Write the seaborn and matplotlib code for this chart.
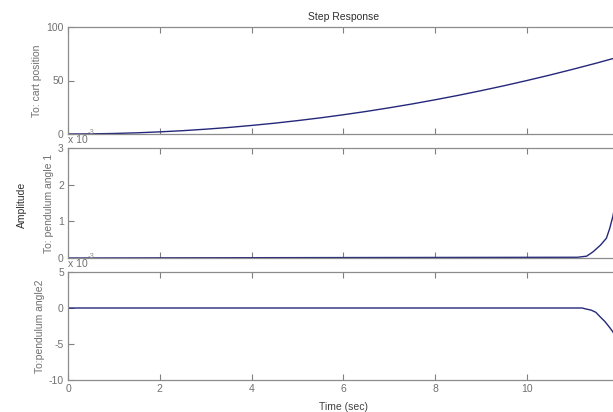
import numpy as np
import pandas as pd
import matplotlib
matplotlib.use("Agg")
import matplotlib.pyplot as plt
import seaborn as sns

# step response values
t_cart = [0, 0.5, 1, 1.5, 2, 2.5, 3, 3.5, 4, 4.5, 5, 5.5, 6, 6.5, 7, 7.5,
          8, 8.5, 9, 9.5, 10, 10.5, 11, 11.5, 12]
cart_pos = [0, 0.12, 0.5, 1.1, 2, 3.1, 4.5, 6.1, 8, 10.1, 12.5, 15.1, 18,
            21.1, 24.5, 28.1, 32, 36.1, 40.5, 45.1, 50, 55.1, 60.5, 66.1, 72]

t_pend1 = [0, 5, 11.1, 11.3, 11.44, 11.6, 11.73, 11.8, 11.87, 12]
pend1 = [0, 0.01, 0.02, 0.05, 0.17, 0.35, 0.54, 0.8, 1.13, 2.0]

t_pend2 = [0, 11.2, 11.26, 11.4, 11.5, 11.59, 11.7, 11.8, 11.87, 12]
pend2 = [0, 0, -0.1, -0.3, -0.6, -1.2, -1.9, -2.7, -3.3, -5.0]

row_labels = ["To: cart position", "To: pendulum angle 1", "To:pendulum angle2"]
y_limits = [(0, 100), (0, 3), (-10, 5)]
y_ticks = [[0, 50, 100], [0, 1, 2, 3], [-10, -5, 0, 5]]
x_ticks = [0, 2, 4, 6, 8, 10, 12]
x_tick_labels = ["0", "2", "4", "6", "8", "10", ""]

sns.set_theme(style="white")
plt.rcParams["font.family"] = ["Liberation Sans", "DejaVu Sans"]
plt.rcParams["axes.unicode_minus"] = False

grey = "#808080"
line_color = "#25287a"

fig = plt.figure(figsize=(6.13, 4.12), dpi=100)
W, H = 613, 412
left = 68 / W
width = 12 * 45.9 / W
boxes = [(27, 134), (148, 258), (272, 380)]

series = [(t_cart, cart_pos), (t_pend1, pend1), (t_pend2, pend2)]
axes = []
for i, ((top, bot), (tx, vy)) in enumerate(zip(boxes, series)):
    ax = fig.add_axes([left, (H - bot) / H, width, (bot - top) / H])
    df = pd.DataFrame({"t": tx, "v": vy})
    sns.lineplot(data=df, x="t", y="v", ax=ax, color=line_color, linewidth=1.0)
    ax.set_xlim(0, 12)
    ax.set_ylim(*y_limits[i])
    ax.set_yticks(y_ticks[i])
    ax.set_xticks(x_ticks)
    ax.tick_params(direction="in", length=4, width=0.8, colors=grey,
                   labelsize=7.5, top=True, bottom=True, left=True, right=True,
                   pad=3)
    ax.tick_params(axis="y", labelcolor="#707070")
    for s in ax.spines.values():
        s.set_color("#8c8c8c")
        s.set_linewidth(0.9)
    ax.set_ylabel(row_labels[i], fontsize=7.5, color="#707070", labelpad=3)
    ax.set_xlabel("")
    if i < 2:
        ax.set_xticklabels([])
    else:
        ax.set_xticklabels(x_tick_labels)
    axes.append(ax)

axes[2].tick_params(axis="x", labelcolor="#707070")
axes[2].set_xlabel("Time (sec)", fontsize=7.5, color="#404040", labelpad=6)
axes[0].set_title("Step Response", fontsize=7.5, color="#303030", pad=5)

# exponent markers (partly hidden under the panel above)
for ypx in [140, 264]:
    fig.text(68 / W, (H - ypx) / H, "x 10", fontsize=7.5, color="#707070",
             ha="left", va="center")
    fig.text(88 / W, (H - ypx + 8) / H, "-3", fontsize=5.5, color="#909090",
             ha="left", va="center", zorder=0)

fig.text(22 / W, (H - 205) / H, "Amplitude", rotation=90, fontsize=7.5,
         color="#303030", ha="center", va="center")

fig.savefig("out.png", dpi=100)
